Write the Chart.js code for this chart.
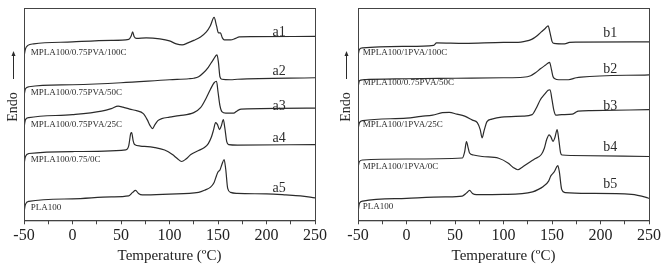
<!DOCTYPE html>
<html>
<head>
<meta charset="utf-8">
<script src="https://cdn.jsdelivr.net/npm/chart.js@4.4.0/dist/chart.umd.min.js"></script>
<style>
    html, body { margin: 0; padding: 0; background: #fff; }
    .panel { position: absolute; top: 0; width: 330px; height: 264px; }
    #panelA { left: 0; }
    #panelB { left: 333px; }
</style>
</head>
<body>
<div class="panel" id="panelA"><canvas id="chartA" width="330" height="264"></canvas></div>
<div class="panel" id="panelB"><canvas id="chartB" width="330" height="264"></canvas></div>
<script>
// DSC heating curves (heat flow in arbitrary units, endo up)

// Left panel: MPLA100/0.75PVA series
const tempA1 = [-50, -48.5, -46, -40, 0, 40, 58, 60.5, 62, 63.5, 66, 76, 90, 100, 107, 113, 119, 125, 132, 138, 142, 146, 148.5, 150.5, 152.5, 154.5, 156.5, 163, 168, 172, 185, 250];
const heatA1 = [164, 172, 175.5, 177, 179, 180.5, 181.5, 185, 189, 184.5, 182.5, 183, 182, 180, 177, 176, 178, 180.5, 184, 189, 195, 203.5, 195, 188, 188, 183, 181, 181, 182.5, 184, 184.2, 184.5];

const tempA2 = [-50, -48.5, -45, 0, 50, 100, 120, 125, 130, 135, 140, 145, 149, 150.5, 152, 154, 163, 170, 250];
const heatA2 = [125, 132, 134, 136, 138, 141, 142, 142.5, 144, 148, 153.5, 161, 166, 158, 144, 141.5, 141, 141.5, 143];

const tempA3 = [-50, -48.5, -45, 0, 30, 40, 47, 52, 59, 66, 73, 77, 80, 82.5, 85, 88, 92, 100, 110, 125, 132, 138, 142, 146, 148.5, 150, 152, 154, 158, 166, 170, 174, 250];
const heatA3 = [93, 101, 103, 106, 109.5, 112, 114.5, 113.5, 111.5, 110, 107, 101, 95, 92, 96, 100, 102, 103.5, 105, 108, 113, 123, 131, 138, 139.5, 129, 115, 109, 107.5, 107.5, 110, 111.5, 112.5];

const tempA4 = [-50, -48.5, -45, 0, 55, 58, 60, 61, 62.5, 64, 70, 85, 95, 103, 108, 112.5, 117, 122, 130, 136, 140, 143, 145.5, 147.5, 149.5, 151.5, 153.5, 155.5, 157, 159, 161, 170, 250];
const heatA4 = [56, 64, 67, 69, 70.7, 75, 87, 88, 80, 76, 74.5, 73, 70.5, 66, 62, 59, 61.5, 66, 70, 73, 77, 83, 91, 98, 96, 91, 95, 101, 93, 79, 76, 75.5, 76];

const tempA5 = [-50, -48.5, -45, 0, 40, 58, 62, 65, 68, 72, 100, 130, 137, 142, 146, 148.5, 150, 152, 154, 156.3, 158, 160, 163, 170, 200, 220, 235, 250];
const heatA5 = [8, 16, 19, 21.5, 23.5, 24.5, 28, 30, 27, 25.5, 26.3, 28, 30.5, 33, 38, 45, 48.5, 50.5, 56, 61, 51, 32, 28, 27, 26.5, 25.5, 24.5, 22.5];

// Right panel: MPLA100/1PVA series
const tempB1 = [-50, -48.5, -45, 0, 28, 31, 60, 100, 115, 122, 129, 135, 139, 143, 146, 148, 150, 152, 163, 168, 175, 250];
const heatB1 = [165, 171.5, 173, 174.5, 175.5, 178, 177.5, 178.5, 178.5, 179.5, 181.5, 185.5, 189, 192.5, 195, 188, 179.5, 177.5, 177, 178.5, 178.8, 179];

const tempB2 = [-50, -48.5, -45, 0, 50, 100, 120, 128, 133, 138, 143, 147.5, 149.5, 151, 153, 157, 167, 175, 180, 250];
const heatB2 = [133, 140, 141, 142, 142.5, 143, 143.5, 145, 148, 152, 155.5, 158.5, 151, 144.3, 142, 141, 141, 143, 143.7, 146];

const tempB3 = [-50, -48.5, -45, 0, 15, 27, 37, 44, 52, 60, 68, 73, 76, 78, 80, 83, 88, 98, 120, 129.5, 134, 138, 142, 146, 148, 150, 152, 154, 160, 171, 174, 177, 190, 250];
const heatB3 = [91, 98, 100, 102.5, 104.3, 105.5, 108, 108.3, 106.5, 104.5, 100.5, 98, 91, 82.7, 90, 99, 101.5, 103.5, 104.5, 106, 113, 121, 126, 130.5, 131, 121, 110, 105.5, 106, 106.5, 108, 109.5, 110, 111];

const tempB4 = [-50, -48.5, -45, 0, 57.5, 60, 61.8, 63.5, 65, 69, 78, 95, 105, 110, 114.8, 119, 125.7, 132, 139, 142, 144.5, 147, 149, 151, 153, 155.3, 157, 158.8, 160.5, 170, 250];
const heatB4 = [53, 59, 60.5, 61.5, 62.5, 69, 79, 73, 67.5, 65.5, 64, 62.3, 57.3, 53, 50.7, 53, 57.5, 61.5, 66, 72, 81, 85.8, 83.5, 79.2, 83, 91, 81, 68, 65.5, 65, 64];

const tempB5 = [-50, -48.5, -45, 0, 40, 57.5, 62, 65, 68, 72, 100, 130, 136, 141, 146.5, 148.5, 150, 152.5, 154.5, 156, 157.5, 160, 163.6, 190, 232, 247, 250];
const heatB5 = [8, 17, 19.3, 22, 23.5, 24.3, 27.5, 30, 27, 25.8, 26, 28.5, 31, 34, 39.3, 44, 46, 49, 53, 55, 49, 31, 27.7, 27, 26, 23, 22];

// Curve labels
const namesA = ['MPLA100/0.75PVA/100C', 'MPLA100/0.75PVA/50C', 'MPLA100/0.75PVA/25C', 'MPLA100/0.75/0C', 'PLA100'];
const nameHeatA = [168, 128, 96, 61, 13];
const tagsA = ['a1', 'a2', 'a3', 'a4', 'a5'];
const tagHeatA = [189, 149, 114, 82, 32];

const namesB = ['MPLA100/1PVA/100C', 'MPLA100/0.75PVA/50C', 'MPLA100/1PVA/25C', 'MPLA100/1PVA/0C', 'PLA100'];
const nameHeatB = [168, 138, 96, 54, 14];
const tagsB = ['b1', 'b2', 'b3', 'b4', 'b5'];
const tagHeatB = [188, 151, 114, 73, 36];

const xTicks = [-50, 0, 50, 100, 150, 200, 250];

const SERIF = "'Liberation Serif', 'Times New Roman', serif";
const INK = '#2b2b2b';

function toPoints(temps, heats) {
    return temps.map((t, i) => ({ x: t, y: heats[i] }));
}

function makeDataset(temps, heats) {
    return {
        data: toPoints(temps, heats),
        borderColor: INK,
        borderWidth: 1.2,
        pointRadius: 0,
        fill: false,
        cubicInterpolationMode: 'monotone'
    };
}

// Frame, curve names, tags and the "Endo" arrow
function makeDecorPlugin(names, nameHeat, nameTemp, tags, tagHeat, tagTemp) {
    return {
        id: 'decor',
        afterDraw(chart) {
            const ctx = chart.ctx;
            const area = chart.chartArea;
            const xs = chart.scales.x;
            const ys = chart.scales.y;
            ctx.save();

            // box
            ctx.strokeStyle = '#444';
            ctx.lineWidth = 1;
            ctx.strokeRect(area.left + 0.5, area.top + 0.5, area.right - area.left, area.bottom - area.top);

            ctx.fillStyle = INK;
            ctx.textBaseline = 'middle';

            // curve names
            ctx.font = '9px ' + SERIF;
            ctx.textAlign = 'left';
            names.forEach((n, i) => {
                ctx.fillText(n, xs.getPixelForValue(nameTemp), ys.getPixelForValue(nameHeat[i]));
            });

            // tags
            ctx.font = '14px ' + SERIF;
            ctx.textAlign = 'center';
            tags.forEach((t, i) => {
                ctx.fillText(t, xs.getPixelForValue(tagTemp), ys.getPixelForValue(tagHeat[i]));
            });

            // Endo with arrow
            const cx = 13;
            ctx.save();
            ctx.translate(cx, 107);
            ctx.rotate(-Math.PI / 2);
            ctx.font = '14px ' + SERIF;
            ctx.textAlign = 'center';
            ctx.fillText('Endo', 0, 0);
            ctx.restore();

            ctx.beginPath();
            ctx.moveTo(cx + 0.5, 79);
            ctx.lineTo(cx + 0.5, 54);
            ctx.strokeStyle = INK;
            ctx.stroke();
            ctx.beginPath();
            ctx.moveTo(cx + 0.5, 51);
            ctx.lineTo(cx - 1.5, 56);
            ctx.lineTo(cx + 2.5, 56);
            ctx.closePath();
            ctx.fill();

            ctx.restore();
        }
    };
}

function makeChart(canvasId, datasets, plugin, padLeft, padRight) {
    return new Chart(document.getElementById(canvasId), {
        type: 'line',
        data: { datasets },
        options: {
            responsive: false,
            animation: false,
            layout: { padding: { left: padLeft, right: padRight, top: 8, bottom: 0 } },
            plugins: {
                legend: { display: false },
                tooltip: { enabled: false }
            },
            scales: {
                x: {
                    type: 'linear',
                    min: -50,
                    max: 250,
                    afterBuildTicks: axis => {
                        const t = [];
                        for (let v = -50; v <= 250; v += 25) t.push({ value: v });
                        axis.ticks = t;
                    },
                    ticks: {
                        autoSkip: false,
                        maxRotation: 0,
                        padding: 2,
                        color: '#222',
                        font: { family: SERIF, size: 16 },
                        callback: v => (xTicks.includes(v) ? String(v) : '')
                    },
                    grid: {
                        drawOnChartArea: false,
                        drawTicks: true,
                        tickLength: 4,
                        color: '#444'
                    },
                    border: { display: true, color: '#444' },
                    title: {
                        display: true,
                        text: 'Temperature (ºC)',
                        color: '#222',
                        padding: { top: 0, bottom: 0 },
                        font: { family: SERIF, size: 15, lineHeight: 1.1 }
                    }
                },
                y: {
                    display: false,
                    min: 0,
                    max: 213
                }
            }
        },
        plugins: [plugin]
    });
}

const chartA = makeChart('chartA', [
    makeDataset(tempA1, heatA1),
    makeDataset(tempA2, heatA2),
    makeDataset(tempA3, heatA3),
    makeDataset(tempA4, heatA4),
    makeDataset(tempA5, heatA5)
], makeDecorPlugin(namesA, nameHeatA, -43, tagsA, tagHeatA, 213), 24, 15);

const chartB = makeChart('chartB', [
    makeDataset(tempB1, heatB1),
    makeDataset(tempB2, heatB2),
    makeDataset(tempB3, heatB3),
    makeDataset(tempB4, heatB4),
    makeDataset(tempB5, heatB5)
], makeDecorPlugin(namesB, nameHeatB, -45, tagsB, tagHeatB, 210), 25, 12);
</script>
</body>
</html>
